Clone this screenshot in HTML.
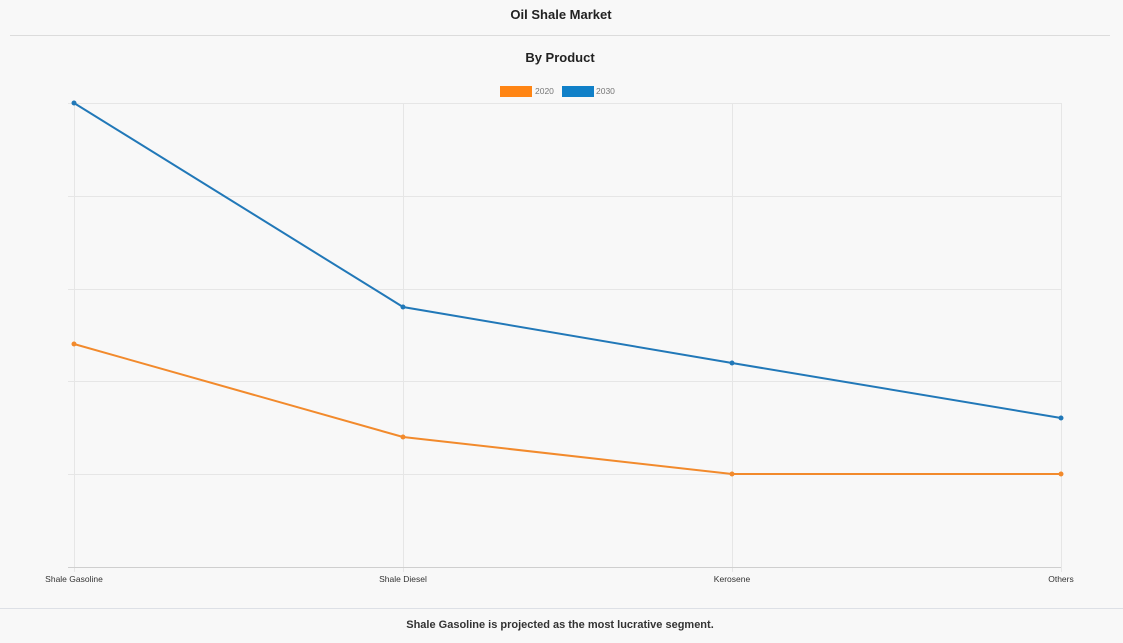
<!DOCTYPE html>
<html><head><style>
html,body{margin:0;padding:0;background:#f8f8f8;width:1123px;height:643px;overflow:hidden;font-family:"Liberation Sans",sans-serif;}
</style></head><body>
<svg width="1123" height="643" viewBox="0 0 1123 643" xmlns="http://www.w3.org/2000/svg">
<rect width="1123" height="643" fill="#f8f8f8"/>
<text x="561" y="19" text-anchor="middle" font-size="13" font-weight="bold" fill="#222">Oil Shale Market</text>
<line x1="10" y1="35.5" x2="1110" y2="35.5" stroke="#dcdcdc"/>
<text x="560" y="62" text-anchor="middle" font-size="13" font-weight="bold" fill="#222">By Product</text>
<rect x="500" y="86" width="32" height="11" fill="#ff8514"/>
<text x="535" y="94" font-size="8.5" fill="#777">2020</text>
<rect x="562" y="86" width="32" height="11" fill="#1080c8"/>
<text x="596" y="94" font-size="8.5" fill="#777">2030</text>
<g stroke="#e6e6e6" stroke-width="1">
<line x1="68" y1="103.5" x2="1061" y2="103.5"/>
<line x1="68" y1="196.5" x2="1061" y2="196.5"/>
<line x1="68" y1="289.5" x2="1061" y2="289.5"/>
<line x1="68" y1="381.5" x2="1061" y2="381.5"/>
<line x1="68" y1="474.5" x2="1061" y2="474.5"/>
<line x1="74.5" y1="103" x2="74.5" y2="572"/>
<line x1="403.5" y1="103" x2="403.5" y2="572"/>
<line x1="732.5" y1="103" x2="732.5" y2="572"/>
<line x1="1061.5" y1="103" x2="1061.5" y2="572"/>
</g>
<line x1="68" y1="567.5" x2="1061" y2="567.5" stroke="#cfcfcf"/>
<polyline points="74,344 403,437 732,474 1061,474" fill="none" stroke="#f28a2c" stroke-width="2"/>
<polyline points="74,103 403,307 732,363 1061,418" fill="none" stroke="#2178b8" stroke-width="2"/>
<g fill="#f28a2c"><circle cx="74" cy="344" r="2.5"/><circle cx="403" cy="437" r="2.5"/><circle cx="732" cy="474" r="2.5"/><circle cx="1061" cy="474" r="2.5"/></g>
<g fill="#2178b8"><circle cx="74" cy="103" r="2.5"/><circle cx="403" cy="307" r="2.5"/><circle cx="732" cy="363" r="2.5"/><circle cx="1061" cy="418" r="2.5"/></g>
<g font-size="8.5" fill="#333" text-anchor="middle">
<text x="74" y="582">Shale Gasoline</text>
<text x="403" y="582">Shale Diesel</text>
<text x="732" y="582">Kerosene</text>
<text x="1061" y="582">Others</text>
</g>
<line x1="0" y1="608.5" x2="1123" y2="608.5" stroke="#dde0e6"/>
<text x="560" y="628" text-anchor="middle" font-size="11" font-weight="bold" fill="#333">Shale Gasoline is projected as the most lucrative segment.</text>
</svg>
</body></html>
